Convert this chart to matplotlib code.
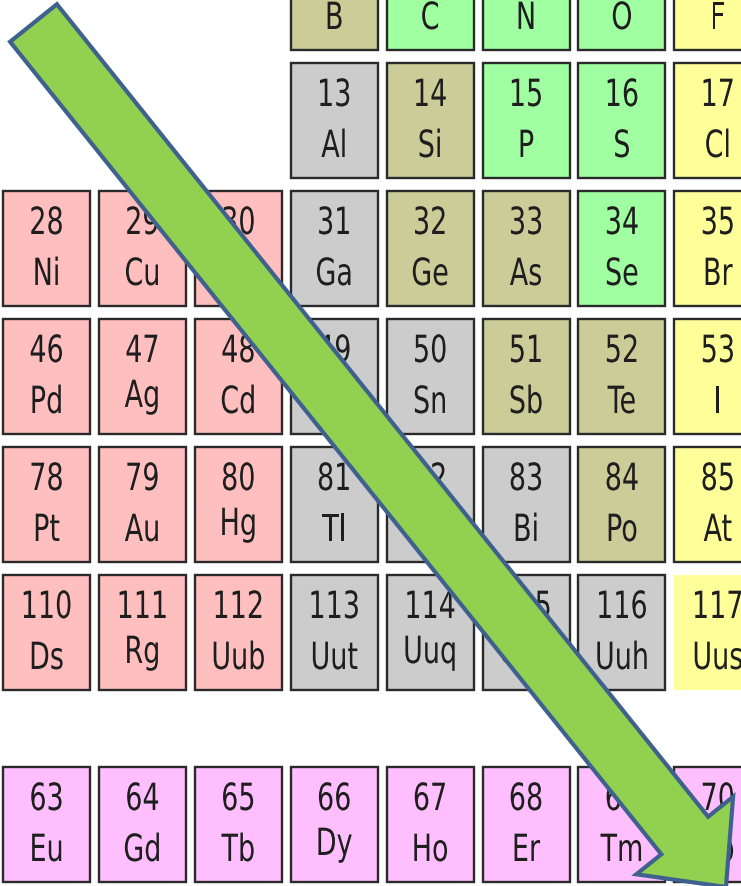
import matplotlib.pyplot as plt
from matplotlib.patches import Rectangle, FancyArrow
from matplotlib.patheffects import AbstractPathEffect
from matplotlib.transforms import Affine2D

# periodic table fragment, groups 10..17, periods 2..7 plus part of the lanthanides
# row index 0 = period 2, 5 = period 7, 6.5 = lanthanide row
row_index = [0, 1, 2, 3, 4, 5, 6.5]
first_col = [3, 3, 0, 0, 0, 0, 0]

# top row numbers are above the visible area
numbers = [
    [None, None, None, None, None],
    [13, 14, 15, 16, 17],
    [28, 29, 30, 31, 32, 33, 34, 35],
    [46, 47, 48, 49, 50, 51, 52, 53],
    [78, 79, 80, 81, 82, 83, 84, 85],
    [110, 111, 112, 113, 114, 115, 116, 117],
    [63, 64, 65, 66, 67, 68, 69, 70],
]
symbols = [
    ['B', 'C', 'N', 'O', 'F'],
    ['Al', 'Si', 'P', 'S', 'Cl'],
    ['Ni', 'Cu', 'Zn', 'Ga', 'Ge', 'As', 'Se', 'Br'],
    ['Pd', 'Ag', 'Cd', 'In', 'Sn', 'Sb', 'Te', 'I'],
    ['Pt', 'Au', 'Hg', 'Tl', 'Pb', 'Bi', 'Po', 'At'],
    ['Ds', 'Rg', 'Uub', 'Uut', 'Uuq', 'Uup', 'Uuh', 'Uus'],
    ['Eu', 'Gd', 'Tb', 'Dy', 'Ho', 'Er', 'Tm', 'Yb'],
]
# t = transition metal, p = poor metal, m = metalloid, n = nonmetal, h = halogen, l = lanthanide
kinds = [
    ['m', 'n', 'n', 'n', 'h'],
    ['p', 'm', 'n', 'n', 'h'],
    ['t', 't', 't', 'p', 'm', 'm', 'n', 'h'],
    ['t', 't', 't', 'p', 'p', 'm', 'm', 'h'],
    ['t', 't', 't', 'p', 'p', 'p', 'm', 'h'],
    ['t', 't', 't', 'p', 'p', 'p', 'p', 'h'],
    ['l', 'l', 'l', 'l', 'l', 'l', 'l', 'l'],
]
unknown = ['Uus']

colors = {'t': '#ffbfbf', 'p': '#cccccc', 'm': '#cccc99',
          'n': '#a0ffa0', 'h': '#ffff99', 'l': '#ffbfff'}


class Squeeze(AbstractPathEffect):
    """squash glyphs horizontally around the text anchor"""
    def __init__(self, ax, x, y, sx):
        super().__init__()
        self.ax, self.x, self.y, self.sx = ax, x, y, sx

    def draw_path(self, renderer, gc, tpath, affine, rgbFace=None):
        cx, _ = self.ax.transData.transform((self.x, self.y))
        aff = affine + Affine2D().translate(-cx, 0).scale(self.sx, 1).translate(cx, 0)
        renderer.draw_path(gc, tpath, aff, rgbFace)


W, H = 741, 886
fig = plt.figure(figsize=(W / 100, H / 100), dpi=100)
ax = fig.add_axes([0, 0, 1, 1])
ax.set_xlim(0, W)
ax.set_ylim(H, 0)
ax.axis('off')

x0, y0 = 3, -65        # top-left of the grid
dx, dy = 95.9, 128     # pitch
cw, ch = 87, 115       # cell size
sx = 0.72


def label(x, y, s):
    ax.text(x, y, s, ha='center', va='baseline', fontsize=27,
            family='DejaVu Sans', color='#1e1e1e', zorder=2,
            path_effects=[Squeeze(ax, x, y, sx)])


for r, c0, nums, syms, ks in zip(row_index, first_col, numbers, symbols, kinds):
    top = y0 + r * dy
    for i, (n, s, k) in enumerate(zip(nums, syms, ks)):
        left = x0 + (c0 + i) * dx
        if s in unknown:
            ax.add_patch(Rectangle((left, top), cw, ch, facecolor=colors[k],
                                   edgecolor='none', zorder=1))
        else:
            ax.add_patch(Rectangle((left, top), cw, ch, facecolor=colors[k],
                                   edgecolor='#2a2a2a', linewidth=1.7, zorder=1))
        cx = left + cw / 2
        if n is not None:
            label(cx, top + 43, str(n))
        base = top + 94
        if any(c in 'gyqp' for c in s):
            base -= 6
        label(cx, base, s)

# big green arrow across the table
tail = (33.5, 23)
tip = (726, 887)
ax.add_patch(FancyArrow(tail[0], tail[1], tip[0] - tail[0], tip[1] - tail[1],
                        width=60, head_width=124, head_length=66,
                        length_includes_head=True, facecolor='#92d050',
                        edgecolor='#3f618e', linewidth=3, zorder=5))

fig.savefig('out.png', dpi=100)
